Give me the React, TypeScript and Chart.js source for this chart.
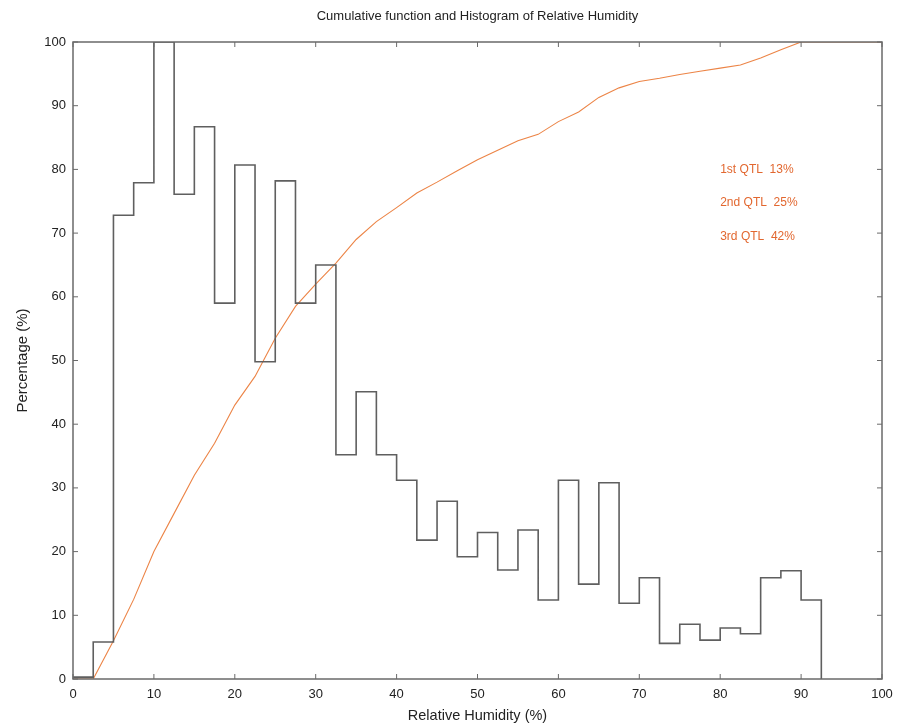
import React, { useEffect, useRef } from "react";
import { Chart, registerables } from "chart.js";

Chart.register(...registerables);

// Histogram bin left edges (bin width 2.5) and the step heights (%)
const binEdges = [
  0, 2.5, 5, 7.5, 10, 12.5, 15, 17.5, 20, 22.5, 25, 27.5, 30, 32.5, 35, 37.5,
  40, 42.5, 45, 47.5, 50, 52.5, 55, 57.5, 60, 62.5, 65, 67.5, 70, 72.5, 75,
  77.5, 80, 82.5, 85, 87.5, 90, 92.5,
];
const histValues = [
  0.3, 5.8, 72.8, 77.9, 100, 76.1, 86.7, 59.0, 80.7, 49.8, 78.2, 59.0, 65.0,
  35.2, 45.1, 35.2, 31.2, 21.8, 27.9, 19.2, 23.0, 17.1, 23.4, 12.4, 31.2, 14.9,
  30.8, 11.9, 15.9, 5.6, 8.6, 6.1, 8.0, 7.1, 15.9, 17.0, 12.4, 0,
];

// Cumulative function (%)
const cumX = [
  0, 2.5, 5, 7.5, 10, 12.5, 15, 17.5, 20, 22.5, 25, 27.5, 30, 32.5, 35, 37.5,
  40, 42.5, 45, 47.5, 50, 52.5, 55, 57.5, 60, 62.5, 65, 67.5, 70, 72.5, 75,
  77.5, 80, 82.5, 85, 87.5, 90, 100,
];
const cumY = [
  0, 0, 6, 12.5, 20, 26, 32, 37, 43, 47.5, 53.5, 58.5, 62, 65.3, 69, 71.8, 74,
  76.3, 78, 79.8, 81.5, 83, 84.5, 85.5, 87.5, 89, 91.3, 92.8, 93.8, 94.3, 94.9,
  95.4, 95.9, 96.4, 97.5, 98.8, 100, 100,
];

const quartileLabels = ["1st QTL  13%", "2nd QTL  25%", "3rd QTL  42%"];
const quartileY = [80, 74.7, 69.4];
const quartileX = 80;

const xTicks = [0, 10, 20, 30, 40, 50, 60, 70, 80, 90, 100];
const yTicks = [0, 10, 20, 30, 40, 50, 60, 70, 80, 90, 100];

const FONT = "'Liberation Sans', Arial, sans-serif";
const FRAME = "#6a6a6a";
const GREY = "#5f5f5f";
const ORANGE = "#ec8446";

const framePlugin = {
  id: "frameTicks",
  afterDatasetsDraw(chart: any) {
    const { ctx, chartArea, scales } = chart;
    const { left, right, top, bottom } = chartArea;
    ctx.save();
    ctx.strokeStyle = FRAME;
    ctx.lineWidth = 1.5;
    ctx.strokeRect(left, top, right - left, bottom - top);
    ctx.lineWidth = 1;
    const tl = 5;
    xTicks.forEach((v) => {
      const x = scales.x.getPixelForValue(v);
      ctx.beginPath();
      ctx.moveTo(x, bottom);
      ctx.lineTo(x, bottom - tl);
      ctx.moveTo(x, top);
      ctx.lineTo(x, top + tl);
      ctx.stroke();
    });
    yTicks.forEach((v) => {
      const y = scales.y.getPixelForValue(v);
      ctx.beginPath();
      ctx.moveTo(left, y);
      ctx.lineTo(left + tl, y);
      ctx.moveTo(right, y);
      ctx.lineTo(right - tl, y);
      ctx.stroke();
    });
    // quartile annotations
    ctx.fillStyle = "#e2672f";
    ctx.font = `12px ${FONT}`;
    ctx.textAlign = "left";
    ctx.textBaseline = "middle";
    quartileLabels.forEach((t, i) => {
      ctx.fillText(
        t,
        scales.x.getPixelForValue(quartileX),
        scales.y.getPixelForValue(quartileY[i])
      );
    });
    ctx.restore();
  },
};

export default function App() {
  const ref = useRef<HTMLCanvasElement | null>(null);
  useEffect(() => {
    if (!ref.current) return;
    const chart = new Chart(ref.current, {
      type: "line",
      data: {
        datasets: [
          {
            label: "Histogram",
            data: binEdges.map((x, i) => ({ x, y: histValues[i] })),
            stepped: "before",
            borderColor: GREY,
            borderWidth: 1.6,
            pointRadius: 0,
            fill: false,
          },
          {
            label: "Cumulative",
            data: cumX.map((x, i) => ({ x, y: cumY[i] })),
            borderColor: ORANGE,
            borderWidth: 1.1,
            pointRadius: 0,
            tension: 0,
            fill: false,
          },
        ],
      },
      options: {
        animation: false,
        responsive: false,
        maintainAspectRatio: false,
        layout: { padding: { left: 0, right: 29, top: 0, bottom: 0 } },
        plugins: {
          legend: { display: false },
          tooltip: { enabled: false },
          title: {
            display: true,
            fullSize: false,
            text: "Cumulative function and Histogram of Relative Humidity",
            color: "#222",
            font: { family: FONT, size: 13, weight: "normal" },
            padding: { top: 8.5, bottom: 17.9 },
          },
        },
        scales: {
          x: {
            type: "linear",
            min: 0,
            max: 100,
            afterBuildTicks: (s: any) => {
              s.ticks = xTicks.map((v) => ({ value: v }));
            },
            afterFit: (s: any) => {
              s.height = 48;
            },
            grid: { display: false, drawTicks: false },
            border: { display: false },
            ticks: {
              color: "#222",
              font: { family: FONT, size: 13 },
              padding: 8,
              maxRotation: 0,
            },
            title: {
              display: true,
              text: "Relative Humidity (%)",
              color: "#222",
              font: { family: FONT, size: 14.5 },
              padding: { top: 0, bottom: 2.3 },
            },
          },
          y: {
            type: "linear",
            min: 0,
            max: 100,
            afterBuildTicks: (s: any) => {
              s.ticks = yTicks.map((v) => ({ value: v }));
            },
            afterFit: (s: any) => {
              s.width = 73;
            },
            grid: { display: false, drawTicks: false },
            border: { display: false },
            ticks: {
              color: "#222",
              font: { family: FONT, size: 13 },
              padding: 7,
            },
            title: {
              display: true,
              text: "Percentage (%)",
              color: "#222",
              font: { family: FONT, size: 15 },
              padding: { top: 13.5, bottom: 0 },
            },
          },
        },
      },
      plugins: [framePlugin],
    });
    return () => chart.destroy();
  }, []);
  return (
    <div
      style={{
        position: "absolute",
        left: 0,
        top: 0,
        width: 911,
        height: 727,
        background: "#fff",
      }}
    >
      <canvas ref={ref} width={911} height={727} />
    </div>
  );
}
